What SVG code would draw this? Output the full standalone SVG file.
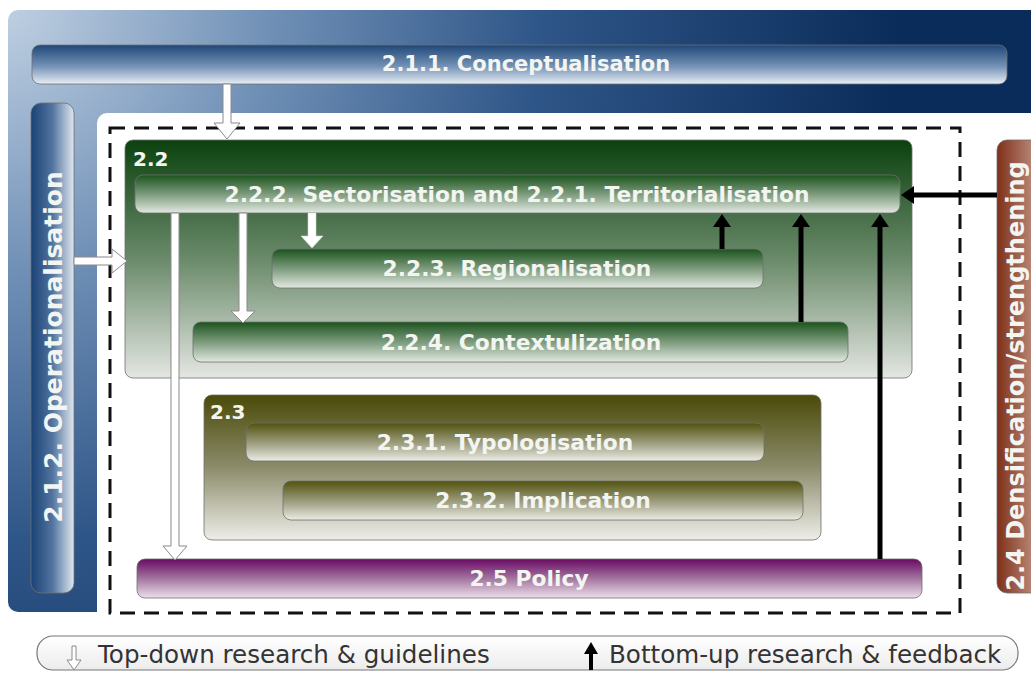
<svg xmlns="http://www.w3.org/2000/svg" width="1031" height="673" viewBox="0 0 1031 673">
<defs>
<radialGradient id="gBg" gradientUnits="userSpaceOnUse" cx="0" cy="0" r="900">
<stop offset="0" stop-color="#c2d2e4"/><stop offset="0.3" stop-color="#7090b6"/><stop offset="0.6" stop-color="#2f5688"/><stop offset="1" stop-color="#0a2c5a"/>
</radialGradient>
<linearGradient id="gBlueV" x1="0" y1="0" x2="0" y2="1">
<stop offset="0" stop-color="#1e4778"/><stop offset="0.55" stop-color="#7592b6"/><stop offset="1" stop-color="#e8eef4"/>
</linearGradient>
<linearGradient id="gBlueH" x1="0" y1="0" x2="1" y2="0">
<stop offset="0" stop-color="#1a4275"/><stop offset="0.5" stop-color="#52749f"/><stop offset="1" stop-color="#e0e8f0"/>
</linearGradient>
<linearGradient id="gGreenGrp" x1="0" y1="0" x2="0" y2="1">
<stop offset="0" stop-color="#0c420f"/><stop offset="0.5" stop-color="#6a8a6a"/><stop offset="1" stop-color="#e4e6e2"/>
</linearGradient>
<linearGradient id="gGreenBar" x1="0" y1="0" x2="0" y2="1">
<stop offset="0" stop-color="#1b531d"/><stop offset="0.55" stop-color="#86a286"/><stop offset="1" stop-color="#e2e9e2"/>
</linearGradient>
<linearGradient id="gOliveGrp" x1="0" y1="0" x2="0" y2="1">
<stop offset="0" stop-color="#4a4a08"/><stop offset="0.5" stop-color="#8c8c6c"/><stop offset="1" stop-color="#eeeee8"/>
</linearGradient>
<linearGradient id="gOliveBar" x1="0" y1="0" x2="0" y2="1">
<stop offset="0" stop-color="#52520e"/><stop offset="0.55" stop-color="#a0a084"/><stop offset="1" stop-color="#ecece4"/>
</linearGradient>
<linearGradient id="gPurple" x1="0" y1="0" x2="0" y2="1">
<stop offset="0" stop-color="#690a62"/><stop offset="0.5" stop-color="#a374a0"/><stop offset="1" stop-color="#ece0ea"/>
</linearGradient>
<linearGradient id="gBrown" x1="0" y1="0" x2="1" y2="0">
<stop offset="0" stop-color="#7f2f18"/><stop offset="1" stop-color="#e6d0c8"/>
</linearGradient>
<linearGradient id="gLegend" x1="0" y1="0" x2="0" y2="1">
<stop offset="0" stop-color="#ffffff"/><stop offset="1" stop-color="#ececec"/>
</linearGradient>
<style>
.lbl{font-family:"DejaVu Sans",Verdana,sans-serif;font-weight:bold;fill:#f2f5f0;text-anchor:middle;dominant-baseline:central}
.grp{font-family:"DejaVu Sans",Verdana,sans-serif;font-weight:bold;fill:#f2f5f0;font-size:20px}
.leg{font-family:"DejaVu Sans",Verdana,sans-serif;fill:#333;font-size:24.6px}
.edge{stroke:#6f6f6f;stroke-width:0.8}
.hollow{fill:#ffffff;stroke:#8a8a8a;stroke-width:1}
.blk{fill:#000}
.blkl{stroke:#000;stroke-width:5;fill:none}
</style>
</defs>
<rect x="0" y="0" width="1031" height="673" fill="#ffffff"/>
<g id="frame">
<rect x="8" y="10" width="1050" height="602" rx="10" fill="url(#gBg)"/>
<rect x="97" y="113" width="1000" height="600" rx="10" fill="#ffffff"/>
<rect x="110" y="128" width="850" height="485" fill="none" stroke="#111" stroke-width="3" stroke-dasharray="15 9"/>
</g>
<g id="n211">
<rect x="32" y="45" width="975" height="39" rx="8" fill="url(#gBlueV)" class="edge"/>
<text class="lbl" x="526" y="64" font-size="21">2.1.1. Conceptualisation</text>
</g>
<g id="n212">
<rect x="31" y="103" width="43" height="490" rx="10" fill="url(#gBlueH)" class="edge"/>
<text class="lbl" transform="translate(53,347) rotate(-90)" font-size="25">2.1.2. Operationalisation</text>
</g>
<g id="n24">
<rect x="997" y="140" width="66" height="453" rx="10" fill="url(#gBrown)" class="edge"/>
<text class="lbl" transform="translate(1016,376) rotate(-90)" font-size="24">2.4 Densification/strengthening</text>
</g>
<g id="n22">
<rect x="125" y="140" width="787" height="238" rx="8" fill="url(#gGreenGrp)" class="edge"/>
<text class="grp" x="133" y="166">2.2</text>
</g>
<g id="n222">
<rect x="135" y="175" width="765" height="38" rx="8" fill="url(#gGreenBar)" class="edge"/>
<text class="lbl" x="517" y="194" font-size="21.8">2.2.2. Sectorisation and 2.2.1. Territorialisation</text>
</g>
<g id="n223">
<rect x="272" y="249" width="491" height="39" rx="8" fill="url(#gGreenBar)" class="edge"/>
<text class="lbl" x="517" y="268" font-size="21.8">2.2.3. Regionalisation</text>
</g>
<g id="n224">
<rect x="193" y="322" width="655" height="40" rx="8" fill="url(#gGreenBar)" class="edge"/>
<text class="lbl" x="521" y="342" font-size="21.8">2.2.4. Contextulization</text>
</g>
<g id="n23">
<rect x="204" y="395" width="617" height="145" rx="8" fill="url(#gOliveGrp)" class="edge"/>
<text class="grp" x="210" y="419">2.3</text>
</g>
<g id="n231">
<rect x="246" y="423" width="518" height="38" rx="8" fill="url(#gOliveBar)" class="edge"/>
<text class="lbl" x="505" y="442" font-size="21.8">2.3.1. Typologisation</text>
</g>
<g id="n232">
<rect x="283" y="481" width="520" height="39" rx="8" fill="url(#gOliveBar)" class="edge"/>
<text class="lbl" x="543" y="500" font-size="21.8">2.3.2. Implication</text>
</g>
<g id="n25">
<rect x="137" y="559" width="785" height="39" rx="8" fill="url(#gPurple)" class="edge"/>
<text class="lbl" x="529" y="578" font-size="21.8">2.5 Policy</text>
</g>
<g id="connectors">
<polygon class="hollow" points="223,84 231,84 231,123 240,123 227,139 214,123 223,123"/>
<polygon class="hollow" points="74,257 112,257 112,249 127,261 112,273 112,265 74,265"/>
<polygon class="hollow" points="171,213 179,213 179,546 187,546 175,560 163,546 171,546"/>
<polygon class="hollow" points="239,213 247,213 247,311 255,311 243,323 231,311 239,311"/>
<polygon points="308,213 316,213 316,236 323,236 312,248 301,236 308,236" fill="#ffffff" stroke="#cfd8cf" stroke-width="0.6"/>
<line class="blkl" x1="722" y1="249" x2="722" y2="225"/>
<polygon class="blk" points="722,214 731,227 713,227"/>
<line class="blkl" x1="801" y1="322" x2="801" y2="225"/>
<polygon class="blk" points="801,214 810,227 792,227"/>
<line class="blkl" x1="880" y1="559" x2="880" y2="225"/>
<polygon class="blk" points="880,214 889,227 871,227"/>
<line class="blkl" x1="997" y1="195" x2="912" y2="195"/>
<polygon class="blk" points="901,195 914,186 914,204"/>
</g>
<g id="legend">
<rect x="37" y="636" width="981" height="34" rx="16" fill="url(#gLegend)" stroke="#777" stroke-width="1.2"/>
<polygon class="hollow" points="72,646 76,646 76,660 81,660 74,670 67,660 72,660" stroke="#666"/>
<text class="leg" x="98" y="663">Top-down research &amp; guidelines</text>
<polygon class="blk" points="591,642 598,654 593,654 593,670 589,670 589,654 584,654"/>
<text class="leg" x="609" y="663">Bottom-up research &amp; feedback</text>
</g>
</svg>
